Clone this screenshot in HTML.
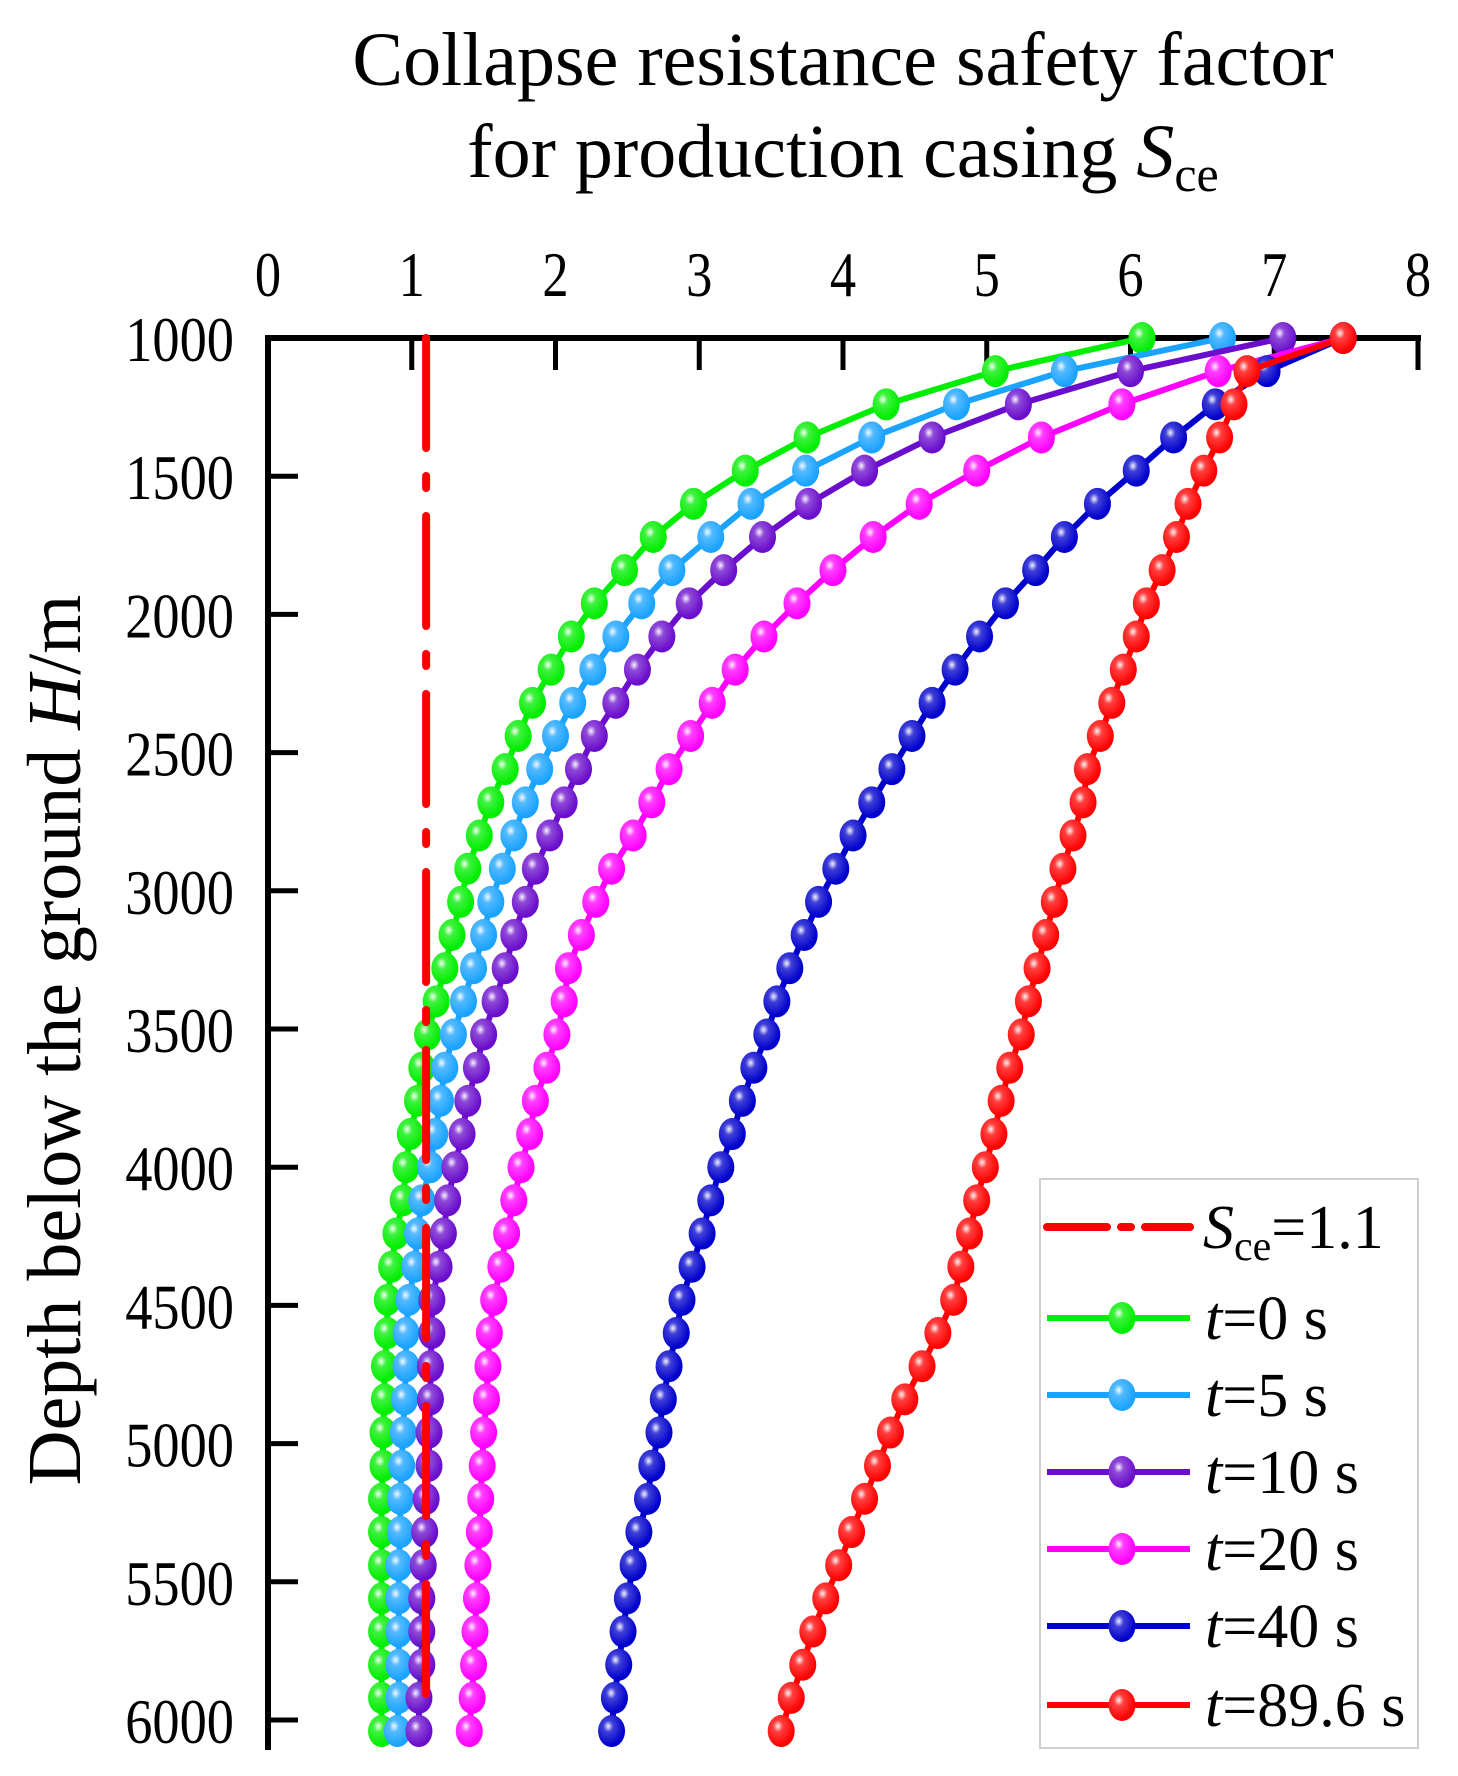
<!DOCTYPE html>
<html><head><meta charset="utf-8"><style>
html,body{margin:0;padding:0;background:#fff;}
svg{display:block;}
text{font-family:"Liberation Serif",serif;fill:#000;}
</style></head><body>
<svg id="chart" width="1458" height="1776" viewBox="0 0 1458 1776" xmlns="http://www.w3.org/2000/svg">
<defs>
<radialGradient id="hl" cx="0.38" cy="0.35" r="0.6">
<stop offset="0" stop-color="#fff" stop-opacity="0.95"/>
<stop offset="0.3" stop-color="#fff" stop-opacity="0.25"/>
<stop offset="1" stop-color="#fff" stop-opacity="0"/>
</radialGradient>
</defs>
<text x="843" y="85" font-size="76" text-anchor="middle">Collapse resistance safety factor</text>
<text x="843" y="177" font-size="76" text-anchor="middle">for production casing <tspan font-style="italic">S</tspan><tspan font-size="50" dy="14">ce</tspan></text>
<text transform="translate(80,1040) rotate(-90)" font-size="76" text-anchor="middle">Depth below the ground <tspan font-style="italic">H</tspan>/m</text>
<g id="axes"></g>
<g id="plot"></g>
<g id="legend"></g>
</svg>
<script>
const depths = [1000,1120,1240,1360,1480,1600,1720,1840,1960,2080,2200,2320,2440,2560,2680,2800,2920,3040,3160,3280,3400,3520,3640,3760,3880,4000,4120,4240,4360,4480,4600,4720,4840,4960,5080,5200,5320,5440,5560,5680,5800,5920,6040];
const t0 = [6.08,5.06,4.30,3.75,3.32,2.96,2.68,2.48,2.27,2.11,1.97,1.84,1.74,1.65,1.55,1.47,1.39,1.34,1.28,1.23,1.17,1.11,1.07,1.04,0.99,0.96,0.94,0.89,0.86,0.83,0.83,0.81,0.81,0.80,0.80,0.79,0.79,0.79,0.79,0.79,0.79,0.79,0.79];
const t5 = [6.64,5.54,4.79,4.20,3.74,3.36,3.08,2.81,2.60,2.42,2.26,2.12,2.00,1.89,1.79,1.71,1.63,1.55,1.50,1.43,1.36,1.29,1.23,1.20,1.16,1.13,1.07,1.04,1.02,0.98,0.96,0.96,0.95,0.94,0.93,0.92,0.92,0.91,0.91,0.91,0.91,0.91,0.90];
const t10 = [7.06,6.00,5.22,4.62,4.15,3.76,3.44,3.17,2.93,2.74,2.57,2.42,2.27,2.16,2.06,1.96,1.86,1.79,1.71,1.65,1.58,1.50,1.45,1.39,1.35,1.30,1.25,1.22,1.19,1.14,1.14,1.13,1.13,1.12,1.12,1.10,1.09,1.08,1.07,1.07,1.07,1.05,1.05];
const t20 = [7.48,6.61,5.94,5.38,4.93,4.53,4.21,3.93,3.68,3.45,3.25,3.09,2.94,2.79,2.67,2.54,2.39,2.28,2.18,2.09,2.06,2.01,1.94,1.86,1.82,1.76,1.71,1.66,1.62,1.57,1.54,1.53,1.52,1.50,1.49,1.48,1.47,1.46,1.45,1.44,1.43,1.42,1.40];
const t40 = [7.48,6.95,6.59,6.30,6.04,5.77,5.54,5.34,5.13,4.95,4.78,4.62,4.48,4.34,4.20,4.07,3.95,3.83,3.73,3.63,3.54,3.47,3.38,3.30,3.23,3.15,3.08,3.02,2.95,2.88,2.84,2.79,2.75,2.72,2.67,2.64,2.58,2.54,2.50,2.47,2.44,2.41,2.39];
const t89 = [7.48,6.81,6.72,6.62,6.51,6.40,6.32,6.22,6.11,6.04,5.95,5.87,5.79,5.70,5.67,5.60,5.53,5.47,5.41,5.35,5.29,5.24,5.16,5.10,5.05,4.99,4.93,4.88,4.82,4.77,4.66,4.55,4.43,4.33,4.24,4.15,4.06,3.97,3.88,3.79,3.72,3.64,3.57];
const limitValue = 1.1;
const limitDepths = [1000,5990];
const xTicks = [0,1,2,3,4,5,6,7,8];
const yTicks = [1000,1500,2000,2500,3000,3500,4000,4500,5000,5500,6000];
const seriesNames = ['t0','t5','t10','t20','t40','t89'];
const seriesColors = ['#00ee00','#1aa3ff','#6a0dcc','#ff00ff','#0000cc','#ff0000'];
const seriesData = [t0,t5,t10,t20,t40,t89];
const legendLabels = ['=0 s','=5 s','=10 s','=20 s','=40 s','=89.6 s'];

const NS='http://www.w3.org/2000/svg';
const X0=268, X1=1418, Y0=338, Y1=1720;
function xs(v){return X0+(v-0)/8*(X1-X0);}
function ys(d){return Y0+(d-1000)/5000*(Y1-Y0);}
function mk(tag,attrs,parent){const e=document.createElementNS(NS,tag);for(const k in attrs)e.setAttribute(k,attrs[k]);parent.appendChild(e);return e;}
const axes=document.getElementById('axes'), plot=document.getElementById('plot'), legend=document.getElementById('legend');

let a=mk('line',{x1:X0-2,y1:Y0,x2:X1+3,y2:Y0,stroke:'#000','stroke-width':6},axes);


a=mk('line',{x1:X0,y1:Y0-3,x2:X0,y2:1750,stroke:'#000','stroke-width':6},axes);


xTicks.forEach(v=>{
  const t=mk('line',{x1:xs(v),y1:Y0,x2:xs(v),y2:Y0+32,stroke:'#000','stroke-width':5},axes);
  
  
  const l=mk('text',{transform:'translate('+xs(v)+',296) scale(0.82,1)','font-size':64,'text-anchor':'middle'},axes);
  l.textContent=v;
  
  
});
yTicks.forEach(v=>{
  const t=mk('line',{x1:X0,y1:ys(v),x2:X0+30,y2:ys(v),stroke:'#000','stroke-width':5},axes);
  
  
  const l=mk('text',{transform:'translate(234,'+(ys(v)+23)+') scale(0.85,1)','font-size':64,'text-anchor':'end'},axes);
  l.textContent=v;
  
  
});

function ball(parent,cx,cy,color,name){
  const g=mk('g',{},parent);
  
  
  mk('ellipse',{cx:cx,cy:cy,rx:13.5,ry:16,fill:color},g);
  mk('ellipse',{cx:cx,cy:cy,rx:13.5,ry:16,fill:'url(#hl)'},g);
}

seriesData.forEach((arr,si)=>{
  const g=mk('g',{},plot);
  
  
  const pts=arr.map((v,i)=>xs(v)+','+ys(depths[i])).join(' ');
  const pl=mk('polyline',{points:pts,fill:'none',stroke:seriesColors[si],'stroke-width':6,'stroke-linejoin':'round'},g);
  
  
  arr.forEach((v,i)=>ball(g,xs(v),ys(depths[i]),seriesColors[si],'point-'+seriesNames[si]));
});
const lim=mk('line',{x1:xs(limitValue),y1:ys(limitDepths[0]),x2:xs(limitValue),y2:ys(limitDepths[1]),stroke:'#ff0000','stroke-width':8,'stroke-dasharray':'110,28,12,28','stroke-linecap':'round'},plot);



// legend
const lb=mk('rect',{x:1040,y:1179,width:378,height:569,fill:'#fff',stroke:'#cfcfcf','stroke-width':2},legend);


const rowY=[1227,1318,1395,1472,1549,1626,1705];
let e=mk('line',{x1:1047,y1:rowY[0],x2:1190,y2:rowY[0],stroke:'#ff0000','stroke-width':8,'stroke-dasharray':'60,14,10,14','stroke-linecap':'round'},legend);


e=mk('text',{x:1203,y:rowY[0]+21,'font-size':62},legend);
e.innerHTML='<tspan font-style="italic">S</tspan><tspan font-size="42" dy="12">ce</tspan><tspan dy="-12">=1.1</tspan>';


seriesColors.forEach((c,si)=>{
  const y=rowY[si+1];
  const g=mk('g',{},legend);
  
  
  mk('line',{x1:1047,y1:y,x2:1190,y2:y,stroke:c,'stroke-width':6},g);
  ball(g,1122,y,c,'legend-marker');
  const t=mk('text',{x:1205,y:y+21,'font-size':62},g);
  t.innerHTML='<tspan font-style="italic">t</tspan>'+legendLabels[si];
  
  
});
</script>
</body></html>
